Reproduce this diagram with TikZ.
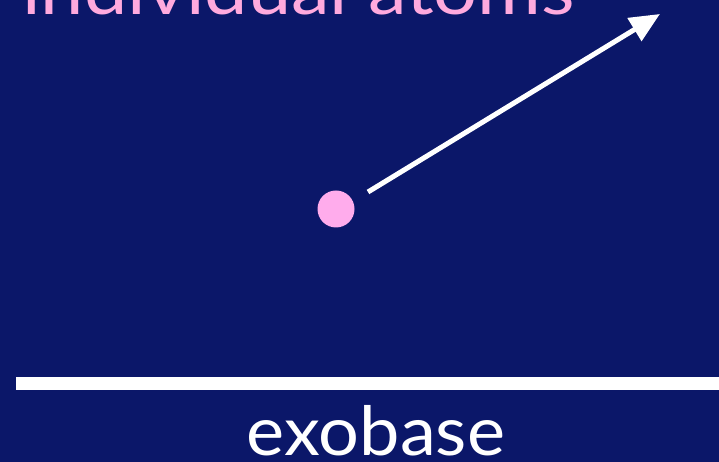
\documentclass[tikz,border=0pt]{standalone}
\usepackage{fontspec}
\setmainfont{Lato}
\usetikzlibrary{arrows.meta}
\definecolor{navy}{RGB}{11,23,105}
\definecolor{pinkdot}{RGB}{255,172,236}
\definecolor{pinktext}{RGB}{255,170,222}
\tikzset{
  lbl/.style={inner sep=0pt, font=\fontsize{68}{68}\selectfont},
  arr/.style={white, line width=5pt, -{Triangle[length=30pt,width=26pt]}},
}
\begin{document}
\begin{tikzpicture}[x=1pt,y=1pt]
\useasboundingbox (0,0) rectangle (719,462);
\clip (0,0) rectangle (719,462);
\fill[navy] (0,0) rectangle (719,462);
\node[lbl, text=pinktext, anchor=base west] (title) at (22,447) {\scalebox{1.14}[1]{individual atoms}};
\node[circle, fill=pinkdot, minimum size=37pt, inner sep=0pt] (atom) at (336,253) {};
\coordinate (from) at (368,270);
\coordinate (to) at (660,448);
\draw[arr] (from) -- (to);
\fill[white] (16,72) rectangle (719,85);
\node[lbl, text=white, anchor=base] (exo) at (376,6) {\scalebox{1.06}[1]{exobase}};
\end{tikzpicture}
\end{document}
